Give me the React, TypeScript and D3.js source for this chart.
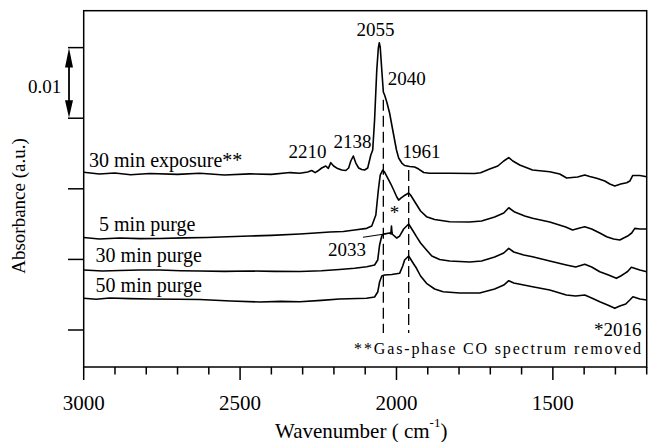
import React from "react";
import * as d3 from "d3";

type P = [number, number];

// Spectra: [wavenumber (cm-1), absorbance (milli a.u., offset as plotted)]
const exposure30: P[] = [
  [3000, 22.34], [2950, 22.1], [2901, 22.24], [2850, 22.0], [2789, 22.17], [2700, 22.05], [2629, 22.2],
  [2550, 21.95], [2469, 22.12], [2400, 22.05], [2340, 22.3], [2309, 22.2], [2284, 22.38], [2271, 22.59],
  [2260, 22.3], [2252, 22.52], [2239, 22.95], [2226, 23.23], [2218, 22.9], [2210, 23.7], [2201, 23.23],
  [2188, 22.87], [2175, 22.66], [2162, 22.59], [2153, 22.95], [2146, 23.94], [2138, 24.65], [2130, 23.65],
  [2121, 22.95], [2111, 22.73], [2102, 22.66], [2092, 22.95], [2082, 24.79], [2076, 25.5], [2070, 29.74],
  [2063, 36.83], [2058, 39.94], [2055, 40.69], [2052, 40.08], [2047, 36.83], [2042, 33.71], [2038, 33.29],
  [2031, 32.29], [2022, 30.74], [2012, 28.33], [2000, 25.5], [1993, 24.36], [1983, 23.65], [1974, 23.3],
  [1958, 23.16], [1942, 23.09], [1929, 22.8], [1913, 22.31], [1894, 22.2], [1830, 22.2], [1750, 22.17],
  [1731, 22.28], [1702, 22.8], [1676, 23.23], [1657, 23.94], [1641, 24.43], [1628, 23.94], [1606, 23.37],
  [1565, 22.66], [1510, 22.42], [1478, 22.1], [1456, 21.53], [1421, 21.67], [1398, 21.95], [1382, 21.74],
  [1360, 21.49], [1334, 21.1], [1318, 20.68], [1302, 20.4], [1283, 20.68], [1264, 20.86], [1254, 21.1],
  [1245, 21.88], [1222, 21.88], [1200, 21.71],
];

const purge5: P[] = [
  [3000, 13.1], [2950, 12.9], [2885, 13.03], [2820, 12.95], [2757, 12.96], [2680, 13.05], [2607, 13.1],
  [2540, 13.2], [2469, 13.31], [2400, 13.4], [2309, 13.6], [2260, 13.75], [2213, 13.88], [2170, 13.95],
  [2134, 14.16], [2095, 14.4], [2079, 14.73], [2066, 16.29], [2058, 19.83], [2052, 21.95], [2044, 22.66],
  [2038, 22.38], [2028, 21.53], [2018, 20.68], [2009, 19.83], [1999, 18.84], [1993, 18.41], [1985, 18.7],
  [1977, 18.98], [1961, 19.4], [1955, 19.12], [1945, 18.41], [1935, 17.71], [1923, 16.86], [1904, 16.05],
  [1878, 15.65], [1830, 15.34], [1766, 15.3], [1728, 15.44], [1686, 16.01], [1657, 16.57], [1641, 17.32],
  [1622, 16.71], [1590, 16.15], [1565, 15.82], [1510, 15.3], [1459, 14.59], [1437, 14.16], [1414, 14.45],
  [1398, 14.63], [1376, 14.31], [1350, 13.74], [1328, 13.22], [1306, 12.89], [1286, 12.75], [1261, 13.31],
  [1248, 13.74], [1238, 14.4], [1222, 14.31], [1200, 14.31],
];

const purge30: P[] = [
  [3000, 8.5], [2940, 8.35], [2885, 8.43], [2820, 8.5], [2757, 8.5], [2690, 8.4], [2629, 8.36], [2550, 8.3],
  [2469, 8.36], [2390, 8.3], [2309, 8.29], [2240, 8.4], [2182, 8.57], [2134, 8.74], [2095, 8.97], [2070, 9.21],
  [2060, 9.91], [2054, 12.04], [2047, 13.31], [2041, 13.6], [2022, 13.74], [2018, 13.6], [2016, 14.73],
  [2014, 13.6], [1999, 13.03], [1990, 13.31], [1977, 14.31], [1961, 15.01], [1955, 14.59], [1945, 13.88],
  [1936, 13.22], [1923, 12.32], [1904, 11.33], [1887, 10.48], [1862, 9.99], [1830, 9.77], [1766, 9.63],
  [1728, 9.77], [1686, 10.34], [1657, 10.91], [1641, 11.57], [1625, 11.05], [1593, 10.62], [1565, 10.38],
  [1510, 9.77], [1457, 9.21], [1427, 8.92], [1398, 9.31], [1376, 8.92], [1350, 8.26], [1322, 7.79],
  [1297, 7.32], [1283, 7.65], [1270, 8.03], [1261, 8.29], [1249, 8.88], [1222, 8.5], [1200, 8.26],
];

const purge50: P[] = [
  [3000, 4.49], [2960, 4.35], [2917, 4.53], [2850, 4.45], [2789, 4.39], [2700, 4.35], [2629, 4.32],
  [2530, 4.1], [2437, 3.97], [2370, 4.05], [2309, 4.01], [2240, 4.2], [2182, 4.39], [2096, 4.49], [2070, 4.67],
  [2060, 5.38], [2054, 6.8], [2047, 7.65], [2038, 7.79], [2015, 7.86], [1990, 8.03], [1980, 9.06], [1974, 9.91],
  [1961, 10.48], [1955, 10.06], [1945, 9.35], [1936, 8.74], [1923, 7.65], [1904, 6.61], [1878, 5.81],
  [1851, 5.42], [1798, 5.24], [1734, 5.24], [1686, 5.81], [1657, 6.37], [1641, 6.98], [1625, 6.66],
  [1593, 6.37], [1565, 6.13], [1510, 5.67], [1457, 4.96], [1427, 4.82], [1398, 4.96], [1376, 4.53],
  [1350, 4.01], [1325, 3.54], [1302, 3.07], [1286, 3.4], [1267, 3.68], [1254, 4.25], [1244, 4.72],
  [1222, 4.39], [1200, 4.25],
];

const spectra: P[][] = [exposure30, purge5, purge30, purge50];

const seriesLabels = ["30 min exposure**", "5 min purge", "30 min purge", "50 min purge"];
// label anchor positions [wavenumber, absorbance]
const seriesLabelPos: P[] = [[2983, 23.1], [2951, 14.0], [2962, 9.67], [2962, 5.42]];

const peakLabels = ["2055", "2040", "2210", "2138", "1961", "2033", "*"];
const peakLabelPos: P[] = [[2128, 41.6], [2028, 34.7], [2345, 24.4], [2201, 25.8], [1981, 24.4], [2219, 10.5], [2006, 15.7]];

const dashedLines: { wn: number; top: number; bottom: number }[] = [
  { wn: 2042, top: 32.6, bottom: -0.42 },
  { wn: 1961, top: 22.66, bottom: -0.42 },
];
const leader: P[] = [[2107, 13.13], [2011, 13.78]];

const xMajorTicks = [3000, 2500, 2000, 1500];
const xMinorTicks = d3.range(3000, 1199, -100);
const yTicks = [0, 10, 20, 30, 40];
const scaleBar = { from: 30, to: 40, label: "0.01" };

const FONT = '"Liberation Serif", "Times New Roman", Times, serif';

export default function App() {
  const left = 83.7, right = 646.7, top = 10.7, bottom = 367;
  const x = d3.scaleLinear().domain([3000, 1200]).range([left, right]);
  const y = d3.scaleLinear().domain([-5.24, 45.23]).range([bottom, top]);
  const line = d3.line<P>().x((d) => x(d[0])).y((d) => y(d[1]));
  const ax = 69;
  const ts = { fontFamily: FONT };

  return (
    <svg width={649} height={442} style={{ position: "absolute", left: 0, top: 0, background: "#fff", fontFamily: FONT }}>
      <rect x={0} y={0} width={649} height={442} fill="#fff" />
      {/* frame */}
      <rect x={left} y={top} width={right - left} height={bottom - top} fill="none" stroke="#000" strokeWidth={1.5} />

      {/* x ticks */}
      {xMinorTicks.map((t) => (
        <line key={"m" + t} x1={x(t)} x2={x(t)} y1={bottom} y2={bottom + (xMajorTicks.includes(t) ? 13 : 7.5)} stroke="#000" strokeWidth={1.5} />
      ))}
      {xMajorTicks.map((t) => (
        <text key={"l" + t} x={x(t)} y={410} fontSize={21} textAnchor="middle" style={ts}>{String(t)}</text>
      ))}
      <text x={275} y={438} fontSize={21} style={ts}>
        Wavenumber ( cm<tspan dy={-11} fontSize={13}>-1</tspan><tspan dy={11}>)</tspan>
      </text>

      {/* y ticks */}
      {yTicks.map((t) => (
        <line key={"y" + t} x1={68} x2={left} y1={y(t)} y2={y(t)} stroke="#000" strokeWidth={1.5} />
      ))}
      {/* scale bar arrow */}
      <line x1={ax} x2={ax} y1={y(scaleBar.to) + 10} y2={y(scaleBar.from) - 10} stroke="#000" strokeWidth={1.8} />
      <polygon points={`${ax},${y(scaleBar.to) + 0.5} ${ax - 4},${y(scaleBar.to) + 20} ${ax + 4},${y(scaleBar.to) + 20}`} fill="#000" />
      <polygon points={`${ax},${y(scaleBar.from) - 0.5} ${ax - 4},${y(scaleBar.from) - 18} ${ax + 4},${y(scaleBar.from) - 18}`} fill="#000" />
      <text x={28} y={92.5} fontSize={19} style={ts}>{scaleBar.label}</text>

      <text transform={`translate(25,206) rotate(-90)`} fontSize={19} textAnchor="middle" style={ts}>Absorbance (a.u.)</text>

      {/* dashed guide lines */}
      {dashedLines.map((d, i) => (
        <line key={"d" + i} x1={x(d.wn)} x2={x(d.wn)} y1={y(d.top)} y2={y(d.bottom)} stroke="#000" strokeWidth={1.3} strokeDasharray="11,5" />
      ))}
      <line x1={x(leader[0][0])} y1={y(leader[0][1])} x2={x(leader[1][0])} y2={y(leader[1][1])} stroke="#000" strokeWidth={1.1} />

      {/* spectra */}
      {spectra.map((s, i) => (
        <path key={"s" + i} d={line(s) || ""} fill="none" stroke="#000" strokeWidth={1.6} strokeLinejoin="round" />
      ))}

      {seriesLabels.map((t, i) => (
        <text key={"sl" + i} x={x(seriesLabelPos[i][0])} y={y(seriesLabelPos[i][1])} fontSize={20} style={ts}>{t}</text>
      ))}
      {peakLabels.map((t, i) => (
        <text key={"pl" + i} x={x(peakLabelPos[i][0])} y={y(peakLabelPos[i][1])} fontSize={19} textAnchor={t === "*" ? "middle" : "start"} style={ts}>{t}</text>
      ))}
      <text x={x(1217)} y={y(-0.85)} fontSize={19} textAnchor="end" style={ts}>*2016</text>
      <text x={x(1212)} y={y(-3.4)} fontSize={16} textAnchor="end" letterSpacing={1.85} style={ts}>**Gas-phase CO spectrum removed</text>
    </svg>
  );
}
